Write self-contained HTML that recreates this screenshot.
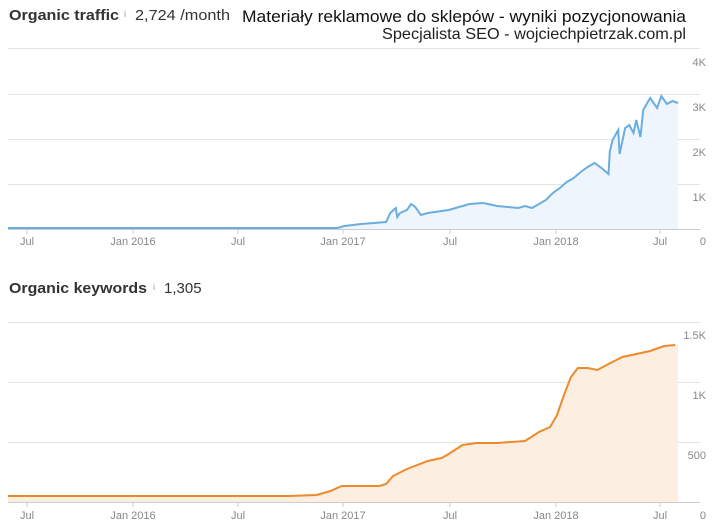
<!DOCTYPE html>
<html><head><meta charset="utf-8"><style>
html,body{margin:0;padding:0;background:#fff;width:720px;height:530px;overflow:hidden}
</style></head><body>
<svg width="720" height="530" xmlns="http://www.w3.org/2000/svg" font-family="Liberation Sans, sans-serif">
<text x="9" y="20" font-size="15" font-weight="bold" fill="#333" textLength="110" lengthAdjust="spacingAndGlyphs">Organic traffic</text>
<text x="124" y="17" font-size="9" fill="#999">i</text>
<text x="135" y="20" font-size="15" fill="#333" textLength="95" lengthAdjust="spacingAndGlyphs">2,724 /month</text>
<text x="242" y="22" font-size="17" fill="#111" textLength="444" lengthAdjust="spacingAndGlyphs">Materiały reklamowe do sklepów - wyniki pozycjonowania</text>
<text x="382" y="39" font-size="16" fill="#222" textLength="304" lengthAdjust="spacingAndGlyphs">Specjalista SEO - wojciechpietrzak.com.pl</text>

<g stroke="#e4e4e4" stroke-width="1">
<line x1="8" x2="700" y1="48.5" y2="48.5"/><line x1="8" x2="700" y1="94.5" y2="94.5"/>
<line x1="8" x2="700" y1="139.5" y2="139.5"/><line x1="8" x2="700" y1="184.5" y2="184.5"/>
<line x1="8" x2="700" y1="229.5" y2="229.5" stroke="#ccc"/>
</g>
<g stroke="#ccc"><line x1="27" x2="27" y1="229" y2="234"/><line x1="133" x2="133" y1="229" y2="234"/><line x1="238" x2="238" y1="229" y2="234"/><line x1="343" x2="343" y1="229" y2="234"/><line x1="450" x2="450" y1="229" y2="234"/><line x1="556" x2="556" y1="229" y2="234"/><line x1="660" x2="660" y1="229" y2="234"/></g>
<g font-size="11" fill="#888" text-anchor="middle">
<text x="27" y="245">Jul</text><text x="133" y="245">Jan 2016</text><text x="238" y="245">Jul</text><text x="343" y="245">Jan 2017</text><text x="450" y="245">Jul</text><text x="556" y="245">Jan 2018</text><text x="660" y="245">Jul</text>
</g>
<g font-size="11" fill="#888" text-anchor="end">
<text x="706" y="66">4K</text><text x="706" y="111">3K</text><text x="706" y="156">2K</text><text x="706" y="201">1K</text><text x="706" y="245">0</text>
</g>
<g transform="translate(8,0) scale(1.39,1) translate(-8,0)">
<path d="M8,228 L245,228 L250,226 L262,224 L280,222 L283,213 L287,208 L288,217 L290,213 L295,210 L298,204 L301,207 L305,215 L310,213 L325,210 L330,208 L340,204 L350,203 L360,206 L375,208 L380,206 L385,208 L395,200 L400,193 L405,188 L410,182 L415,178 L420,172 L425,167 L430,163 L435,168 L440,174 L441,151 L443,140 L447,130 L448,154 L452,128 L455,125 L458,133 L460,120 L463,137 L465,110 L470,98 L475,108 L478,96 L482,104 L486,101 L490,103 L490,229 L8,229 Z" fill="#eef5fc"/>
<path d="M8,228 L245,228 L250,226 L262,224 L280,222 L283,213 L287,208 L288,217 L290,213 L295,210 L298,204 L301,207 L305,215 L310,213 L325,210 L330,208 L340,204 L350,203 L360,206 L375,208 L380,206 L385,208 L395,200 L400,193 L405,188 L410,182 L415,178 L420,172 L425,167 L430,163 L435,168 L440,174 L441,151 L443,140 L447,130 L448,154 L452,128 L455,125 L458,133 L460,120 L463,137 L465,110 L470,98 L475,108 L478,96 L482,104 L486,101 L490,103" fill="none" stroke="#6aaee0" stroke-width="2" vector-effect="non-scaling-stroke"/>
</g>

<text x="9" y="293" font-size="15" font-weight="bold" fill="#333" textLength="138" lengthAdjust="spacingAndGlyphs">Organic keywords</text>
<text x="153" y="290" font-size="9" fill="#999">i</text>
<text x="164" y="293" font-size="15" fill="#333">1,305</text>

<g stroke="#e4e4e4"><line x1="8" x2="700" y1="322.5" y2="322.5"/><line x1="8" x2="700" y1="382.5" y2="382.5"/><line x1="8" x2="700" y1="442.5" y2="442.5"/><line x1="8" x2="700" y1="502.5" y2="502.5" stroke="#ccc"/></g>
<g stroke="#ccc"><line x1="27" x2="27" y1="502" y2="507"/><line x1="133" x2="133" y1="502" y2="507"/><line x1="238" x2="238" y1="502" y2="507"/><line x1="343" x2="343" y1="502" y2="507"/><line x1="450" x2="450" y1="502" y2="507"/><line x1="556" x2="556" y1="502" y2="507"/><line x1="660" x2="660" y1="502" y2="507"/></g>
<g font-size="11" fill="#888" text-anchor="middle">
<text x="27" y="519">Jul</text><text x="133" y="519">Jan 2016</text><text x="238" y="519">Jul</text><text x="343" y="519">Jan 2017</text><text x="450" y="519">Jul</text><text x="556" y="519">Jan 2018</text><text x="660" y="519">Jul</text>
</g>
<g font-size="11" fill="#888" text-anchor="end">
<text x="706" y="339">1.5K</text><text x="706" y="399">1K</text><text x="706" y="459">500</text><text x="706" y="519">0</text>
</g>
<g transform="translate(8,0) scale(1.39,1) translate(-8,0)">
<path d="M8,496 L210,496 L230,495 L240,491 L248,486 L260,486 L275,486 L280,484 L285,476 L295,469 L310,461 L320,458 L325,454 L335,445 L345,443 L360,443 L380,441 L390,432 L398,427 L403,415 L408,395 L413,377 L418,368 L425,368 L432,370 L440,364 L450,357 L460,354 L470,351 L480,346 L488,345 L490,345 L490,502 L8,502 Z" fill="#fdeee2"/>
<path d="M8,496 L210,496 L230,495 L240,491 L248,486 L260,486 L275,486 L280,484 L285,476 L295,469 L310,461 L320,458 L325,454 L335,445 L345,443 L360,443 L380,441 L390,432 L398,427 L403,415 L408,395 L413,377 L418,368 L425,368 L432,370 L440,364 L450,357 L460,354 L470,351 L480,346 L488,345" fill="none" stroke="#ec8a2c" stroke-width="2" vector-effect="non-scaling-stroke"/>
</g>
</svg>
</body></html>
